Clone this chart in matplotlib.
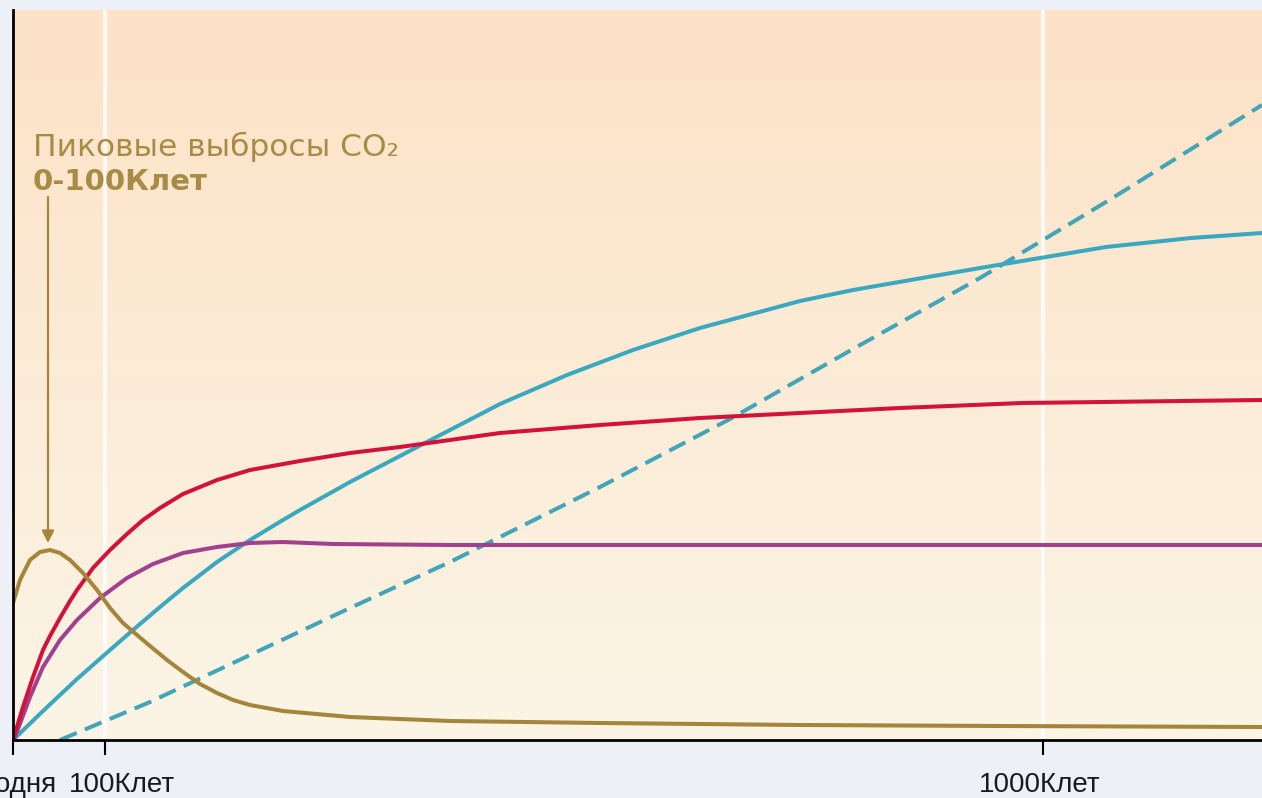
import matplotlib
matplotlib.use("Agg")
import matplotlib.pyplot as plt
import numpy as np
from matplotlib.transforms import ScaledTranslation

plt.rcParams['font.family'] = ['Liberation Sans', 'DejaVu Sans']

# ---- data (x: time axis units, y: relative magnitude) ----
brown_x = [0, 7, 17, 27, 37, 47, 57, 70, 84, 97, 110, 124, 137, 154, 170, 187, 204, 220, 237, 270, 337, 437, 587, 787, 987, 1249]
brown_y = [137, 160, 180, 188, 190, 187, 180, 167, 150, 132, 117, 105, 94, 80, 68, 56, 47, 40, 35, 29, 23, 19, 17, 15, 14, 13]

red_x = [0, 3, 10, 20, 30, 37, 47, 57, 64, 80, 97, 114, 130, 147, 170, 204, 237, 287, 337, 387, 437, 487, 587, 687, 787, 887, 1009, 1249]
red_y = [0, 10, 33, 63, 90, 104, 122, 139, 150, 172, 190, 206, 220, 232, 246, 260, 270, 279, 287, 293, 300, 307, 315, 322, 327, 332, 337, 340]

magenta_x = [0, 2, 17, 30, 47, 64, 87, 114, 140, 170, 204, 237, 270, 320, 437, 1249]
magenta_y = [0, 3, 43, 73, 100, 120, 142, 162, 176, 187, 193, 197, 198, 196, 195, 195]

cyan_x = [0, 30, 64, 97, 120, 147, 170, 204, 237, 270, 287, 337, 387, 410, 487, 554, 620, 687, 787, 840, 967, 1009, 1093, 1178, 1249]
cyan_y = [0, 29, 61, 90, 110, 133, 152, 178, 200, 220, 230, 258, 284, 296, 336, 365, 390, 412, 439, 450, 472, 479, 493, 502, 507]

dash_x = [47, 137, 237, 337, 437, 587, 717, 840, 967, 1093, 1249]
dash_y = [0, 38, 85, 132, 178, 253, 321, 391, 462, 538, 635]

tick_pos = [0, 92, 1030]
tick_labels = ["Сегодня", "100Клет", "1000Клет"]
tick_label_shift_px = [-9, 17, -3]

annot_line1 = "Пиковые выбросы CO₂"
annot_line2 = "0-100Клет"
arrow_x = 35
arrow_from, arrow_to = 543, 197

# ---- figure ----
W, H = 1262, 798
fig = plt.figure(figsize=(W / 100, H / 100), dpi=100)
fig.patch.set_facecolor('#eef0f8')
ax = fig.add_axes([13 / W, (H - 740) / H, (W - 13) / W, 730 / H])
ax.set_xlim(0, 1249)
ax.set_ylim(0, 730)

# gradient background
top = np.array([0xfd, 0xe2, 0xc6]) / 255
bot = np.array([0xfb, 0xf5, 0xe6]) / 255
t = np.linspace(0, 1, 256)[:, None]
grad = (top[None, :] * (1 - t) + bot[None, :] * t)[:, None, :]
ax.imshow(grad, extent=[0, 1249, 0, 730], aspect='auto', origin='upper', zorder=0)

# white vertical gridlines
for xp in tick_pos[1:]:
    ax.axvline(xp, color='white', lw=3, alpha=0.8, zorder=1)

lw = 2.9
kw = dict(lw=lw, solid_joinstyle='round', solid_capstyle='round')
ax.plot(dash_x, dash_y, color='#43a5b8', lw=lw, dashes=(4.5, 2.2), zorder=3,
        dash_capstyle='butt', dash_joinstyle='round')
ax.plot(cyan_x, cyan_y, color='#3aa9c0', zorder=4, **kw)
ax.plot(red_x, red_y, color='#d3123c', zorder=5, **kw)
ax.plot(magenta_x, magenta_y, color='#a0408f', zorder=4, **kw)
ax.plot(brown_x, brown_y, color='#a5853a', zorder=6, **kw)

ax.annotate("", xy=(arrow_x, 740 - arrow_from), xytext=(arrow_x, 740 - arrow_to),
            arrowprops=dict(arrowstyle='-|>', color='#a5853a', lw=1.6,
                            mutation_scale=18, shrinkA=0, shrinkB=0), zorder=7)

ax.text(20, 740 - 156, annot_line1, fontsize=22.5, color='#a88b45', ha='left', va='baseline',
        zorder=8, family=['DejaVu Sans'])
ax.text(20, 740 - 190, annot_line2, fontsize=21, color='#a88b45', fontweight='bold', ha='left',
        va='baseline', zorder=8, family=['DejaVu Sans'])

# axes styling
for s in ['top', 'right']:
    ax.spines[s].set_visible(False)
ax.spines['left'].set_linewidth(2)
ax.spines['bottom'].set_linewidth(2)
ax.spines['left'].set_zorder(10)
ax.spines['bottom'].set_zorder(10)
ax.set_yticks([])
ax.set_xticks(tick_pos)
ax.set_xticklabels(tick_labels, fontsize=20, color='#1a1a1a')
ax.tick_params(axis='x', direction='out', length=11, width=1.5, pad=12)
for lab, sh in zip(ax.get_xticklabels(), tick_label_shift_px):
    lab.set_transform(lab.get_transform() + ScaledTranslation(sh / 100, 0, fig.dpi_scale_trans))

fig.savefig("out.png", dpi=100, facecolor=fig.get_facecolor())
